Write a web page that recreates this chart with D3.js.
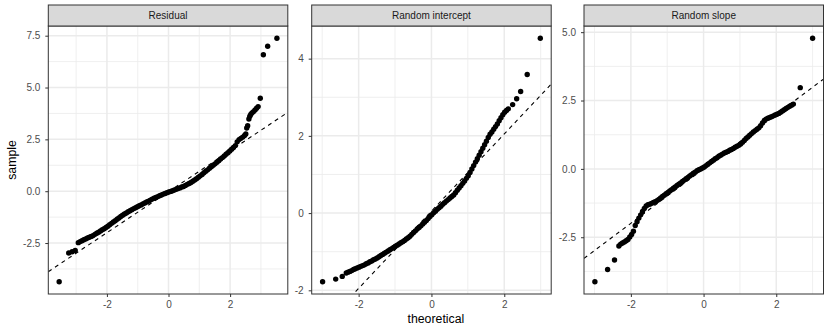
<!DOCTYPE html>
<html><head><meta charset="utf-8">
<script src="https://cdn.jsdelivr.net/npm/d3@7"></script>
<style>
body{margin:0;background:#fff}
svg{display:block}
text{font-family:"Liberation Sans",Arial,Helvetica,sans-serif}
</style>
</head><body>
<svg id="chart" width="830" height="332"></svg>
<script>
// ---------------- data ----------------
const panelNames = ["Residual", "Random intercept", "Random slope"];

// [theoretical, sample]
const residualPoints = [
[-3.55,-4.37],[-3.24,-2.98],[-3.13,-2.92],[-3.03,-2.86],
[-2.93,-2.48],[-2.87,-2.43],[-2.81,-2.39],[-2.75,-2.34],[-2.69,-2.30],[-2.63,-2.26],[-2.57,-2.22],[-2.51,-2.18],
[-2.45,-2.14],[-2.39,-2.08],[-2.33,-2.03],[-2.27,-1.98],[-2.21,-1.92],[-2.15,-1.86],[-2.09,-1.81],[-2.03,-1.75],
[-1.97,-1.69],[-1.91,-1.62],[-1.85,-1.55],[-1.79,-1.48],[-1.73,-1.42],[-1.67,-1.35],[-1.61,-1.29],[-1.55,-1.22],
[-1.49,-1.16],[-1.43,-1.10],[-1.37,-1.05],[-1.31,-0.99],[-1.25,-0.94],[-1.19,-0.89],[-1.13,-0.84],[-1.07,-0.80],
[-1.01,-0.75],[-0.95,-0.70],[-0.89,-0.66],[-0.83,-0.61],[-0.77,-0.57],[-0.71,-0.52],[-0.65,-0.48],[-0.59,-0.43],
[-0.53,-0.38],[-0.47,-0.34],[-0.41,-0.30],[-0.35,-0.26],[-0.29,-0.22],[-0.23,-0.18],[-0.17,-0.14],[-0.11,-0.11],
[-0.05,-0.07],[0.01,-0.04],[0.07,-0.01],[0.13,0.02],[0.19,0.06],[0.25,0.09],[0.31,0.13],[0.37,0.16],
[0.43,0.20],[0.49,0.23],[0.55,0.28],[0.61,0.33],[0.67,0.37],[0.73,0.42],[0.79,0.48],[0.85,0.54],
[0.91,0.60],[0.97,0.67],[1.03,0.74],[1.09,0.81],[1.15,0.89],[1.21,0.96],[1.27,1.03],[1.33,1.11],
[1.39,1.18],[1.45,1.25],[1.51,1.32],[1.57,1.40],[1.63,1.47],[1.69,1.55],[1.75,1.62],[1.81,1.70],
[1.87,1.78],[1.93,1.86],[1.99,1.94],[2.05,2.02],[2.11,2.11],[2.17,2.20],[2.23,2.38],[2.29,2.49],
[2.35,2.55],[2.41,2.61],[2.47,2.69],[2.51,2.76],
[2.54,3.05],[2.57,3.16],[2.61,3.48],[2.64,3.62],[2.67,3.70],[2.71,3.78],[2.76,3.84],[2.81,3.92],
[2.86,4.00],[2.91,4.08],[2.98,4.48],[3.08,6.58],[3.22,6.99],[3.52,7.38]
];

const interceptPoints = [
[-2.99,-1.78],[-2.63,-1.71],[-2.45,-1.64],
[-2.34,-1.55],[-2.29,-1.53],[-2.24,-1.51],[-2.19,-1.49],[-2.14,-1.46],[-2.09,-1.44],[-2.04,-1.42],[-1.99,-1.40],
[-1.94,-1.38],[-1.89,-1.36],[-1.84,-1.34],[-1.79,-1.31],[-1.74,-1.29],[-1.69,-1.26],[-1.64,-1.24],[-1.59,-1.21],
[-1.54,-1.19],[-1.49,-1.16],[-1.44,-1.13],[-1.39,-1.10],[-1.34,-1.07],[-1.29,-1.04],[-1.24,-1.01],[-1.19,-0.98],
[-1.14,-0.95],[-1.09,-0.92],[-1.04,-0.89],[-0.99,-0.86],[-0.94,-0.83],[-0.89,-0.80],[-0.84,-0.77],[-0.79,-0.74],
[-0.74,-0.71],[-0.69,-0.67],[-0.64,-0.64],[-0.59,-0.60],[-0.54,-0.55],[-0.49,-0.50],[-0.44,-0.46],[-0.39,-0.41],
[-0.34,-0.37],[-0.29,-0.33],[-0.24,-0.28],[-0.19,-0.24],[-0.14,-0.19],[-0.09,-0.14],[-0.04,-0.09],[0.01,-0.04],
[0.06,0.01],[0.11,0.05],[0.16,0.10],[0.21,0.14],[0.26,0.18],[0.31,0.23],[0.36,0.27],[0.41,0.31],
[0.46,0.35],[0.51,0.39],[0.56,0.43],[0.61,0.47],[0.66,0.53],[0.71,0.59],[0.76,0.65],[0.81,0.71],
[0.86,0.77],[0.91,0.83],[0.96,0.90],[1.01,0.97],[1.06,1.05],[1.11,1.14],[1.16,1.23],[1.21,1.32],
[1.26,1.41],[1.31,1.50],[1.36,1.59],[1.41,1.68],[1.46,1.77],[1.51,1.86],[1.56,1.96],[1.61,2.04],
[1.66,2.10],[1.71,2.17],[1.76,2.24],[1.81,2.31],[1.86,2.39],[1.91,2.47],[1.96,2.55],[2.01,2.61],
[2.06,2.66],[2.11,2.70],
[2.23,2.81],[2.34,2.96],[2.45,3.15],[2.63,3.59],[2.99,4.53]
];

const slopePoints = [
[-2.99,-4.13],[-2.64,-3.68],[-2.45,-3.33],
[-2.33,-2.82],[-2.28,-2.75],[-2.23,-2.71],[-2.18,-2.67],[-2.13,-2.63],[-2.08,-2.58],[-2.03,-2.49],[-1.98,-2.40],
[-1.93,-2.28],[-1.88,-2.07],[-1.83,-1.93],[-1.78,-1.80],[-1.73,-1.68],[-1.68,-1.56],[-1.63,-1.45],[-1.58,-1.36],
[-1.53,-1.31],[-1.48,-1.29],[-1.43,-1.26],[-1.38,-1.23],[-1.33,-1.20],[-1.28,-1.16],[-1.23,-1.12],[-1.18,-1.06],
[-1.13,-1.01],[-1.08,-0.96],[-1.03,-0.91],[-0.98,-0.86],[-0.93,-0.81],[-0.88,-0.76],[-0.83,-0.71],[-0.78,-0.66],
[-0.73,-0.61],[-0.68,-0.56],[-0.63,-0.51],[-0.58,-0.46],[-0.53,-0.41],[-0.48,-0.36],[-0.43,-0.31],[-0.38,-0.26],
[-0.33,-0.21],[-0.28,-0.16],[-0.23,-0.12],[-0.18,-0.07],[-0.13,-0.03],[-0.08,0.00],[-0.03,0.03],[0.02,0.07],
[0.07,0.12],[0.12,0.17],[0.17,0.22],[0.22,0.27],[0.27,0.32],[0.32,0.37],[0.37,0.41],[0.42,0.46],
[0.47,0.50],[0.52,0.54],[0.57,0.58],[0.62,0.61],[0.67,0.64],[0.72,0.68],[0.77,0.71],[0.82,0.75],
[0.87,0.79],[0.92,0.83],[0.97,0.86],[1.02,0.91],[1.07,0.97],[1.12,1.04],[1.17,1.11],[1.22,1.17],
[1.27,1.23],[1.32,1.29],[1.37,1.35],[1.42,1.40],[1.47,1.45],[1.52,1.50],[1.57,1.58],[1.62,1.68],
[1.67,1.77],[1.72,1.82],[1.77,1.85],[1.82,1.88],[1.87,1.91],[1.92,1.94],[1.97,1.97],[2.02,2.00],
[2.07,2.03],[2.12,2.07],[2.17,2.12],[2.22,2.16],[2.27,2.21],[2.32,2.25],[2.37,2.29],[2.42,2.33],
[2.47,2.37],
[2.66,2.97],[3.00,4.78]
];

// reference lines (dashed)
const lineSlopes = [0.988, 1.0, 0.995];
const lineIntercepts = [-0.025, 0.05, 0.0];

// ticks
const xTickValues = [-2, 0, 2];
const xTickLabels = ["-2", "0", "2"];
const xMinorValues = [-3, -1, 1, 3];
const yTickValues = [[-2.5, 0, 2.5, 5, 7.5], [-2, 0, 2, 4], [-2.5, 0, 2.5, 5]];
const yTickLabels = [["-2.5", "0.0", "2.5", "5.0", "7.5"], ["-2", "0", "2", "4"], ["-2.5", "0.0", "2.5", "5.0"]];
const yMinorValues = [[-3.75, -1.25, 1.25, 3.75, 6.25], [-1, 1, 3], [-3.75, -1.25, 1.25, 3.75]];

const xTitle = "theoretical";
const yTitle = "sample";

// ---------------- layout ----------------
const panelLefts = [48.3, 311.7, 584];
const panelWidth = 239.5;
const stripTop = 5, panelTop = 26, panelBottom = 294;

const svg = d3.select("#chart");
const allPoints = [residualPoints, interceptPoints, slopePoints];

function expand(ext) {
  const r = ext[1] - ext[0];
  return [ext[0] - 0.05 * r, ext[1] + 0.05 * r];
}

allPoints.forEach((pts, i) => {
  const left = panelLefts[i], right = left + panelWidth;
  const x = d3.scaleLinear().domain(expand(d3.extent(pts, d => d[0]))).range([left, right]);
  const y = d3.scaleLinear().domain(expand(d3.extent(pts, d => d[1]))).range([panelBottom, panelTop]);

  const g = svg.append("g");
  g.append("rect").attr("x", left).attr("y", panelTop).attr("width", panelWidth)
    .attr("height", panelBottom - panelTop).attr("fill", "#fff");

  // minor grid
  g.selectAll(".vminor").data(xMinorValues.filter(v => v > x.domain()[0] && v < x.domain()[1])).join("line")
    .attr("x1", d => x(d)).attr("x2", d => x(d)).attr("y1", panelTop).attr("y2", panelBottom)
    .attr("stroke", "#EBEBEB").attr("stroke-width", 0.8);
  g.selectAll(".hminor").data(yMinorValues[i].filter(v => v > y.domain()[0] && v < y.domain()[1])).join("line")
    .attr("x1", left).attr("x2", right).attr("y1", d => y(d)).attr("y2", d => y(d))
    .attr("stroke", "#EBEBEB").attr("stroke-width", 0.8);
  // major grid
  g.selectAll(".vmajor").data(xTickValues).join("line")
    .attr("x1", d => x(d)).attr("x2", d => x(d)).attr("y1", panelTop).attr("y2", panelBottom)
    .attr("stroke", "#EBEBEB").attr("stroke-width", 1.5);
  g.selectAll(".hmajor").data(yTickValues[i]).join("line")
    .attr("x1", left).attr("x2", right).attr("y1", d => y(d)).attr("y2", d => y(d))
    .attr("stroke", "#EBEBEB").attr("stroke-width", 1.5);

  const clipId = "clip" + i;
  svg.append("clipPath").attr("id", clipId).append("rect")
    .attr("x", left).attr("y", panelTop).attr("width", panelWidth).attr("height", panelBottom - panelTop);

  // points
  g.append("g").attr("clip-path", `url(#${clipId})`).selectAll("circle").data(pts).join("circle")
    .attr("cx", d => x(d[0])).attr("cy", d => y(d[1])).attr("r", 2.7).attr("fill", "#000");

  // dashed line
  const xd = x.domain();
  g.append("line").attr("clip-path", `url(#${clipId})`)
    .attr("x1", x(xd[0])).attr("y1", y(lineIntercepts[i] + lineSlopes[i] * xd[0]))
    .attr("x2", x(xd[1])).attr("y2", y(lineIntercepts[i] + lineSlopes[i] * xd[1]))
    .attr("stroke", "#000").attr("stroke-width", 1.1).attr("stroke-dasharray", "4,4");

  // panel border
  g.append("rect").attr("x", left).attr("y", panelTop).attr("width", panelWidth)
    .attr("height", panelBottom - panelTop).attr("fill", "none").attr("stroke", "#333333").attr("stroke-width", 1);

  // strip
  g.append("rect").attr("x", left).attr("y", stripTop).attr("width", panelWidth)
    .attr("height", panelTop - stripTop).attr("fill", "#D9D9D9").attr("stroke", "#333333").attr("stroke-width", 1);
  g.append("text").attr("x", (left + right) / 2).attr("y", (stripTop + panelTop) / 2 + 3.6)
    .attr("text-anchor", "middle").attr("font-size", "10px").attr("fill", "#1A1A1A").text(panelNames[i]);

  // axes
  const xAxis = d3.axisBottom(x).tickValues(xTickValues).tickFormat((d, k) => xTickLabels[k])
    .tickSize(3).tickPadding(3.5);
  const ga = svg.append("g").attr("transform", `translate(0,${panelBottom})`).call(xAxis);
  const yAxis = d3.axisLeft(y).tickValues(yTickValues[i]).tickFormat((d, k) => yTickLabels[i][k])
    .tickSize(3).tickPadding(5);
  const gy = svg.append("g").attr("transform", `translate(${left},0)`).call(yAxis);
  [ga, gy].forEach(a => {
    a.select(".domain").remove();
    a.selectAll(".tick line").attr("stroke", "#333333").attr("stroke-width", 1);
    a.selectAll(".tick text").attr("fill", "#4D4D4D").attr("font-size", "10px")
      .attr("font-family", '"Liberation Sans",Arial,Helvetica,sans-serif');
  });
});

// axis titles
svg.append("text").attr("x", (panelLefts[0] + panelLefts[2] + panelWidth) / 2).attr("y", 323)
  .attr("text-anchor", "middle").attr("font-size", "12.3px").attr("fill", "#000").text(xTitle);
svg.append("text").attr("transform", `translate(16,${(panelTop + panelBottom) / 2}) rotate(-90)`)
  .attr("text-anchor", "middle").attr("font-size", "12.3px").attr("fill", "#000").text(yTitle);
</script>
</body></html>
